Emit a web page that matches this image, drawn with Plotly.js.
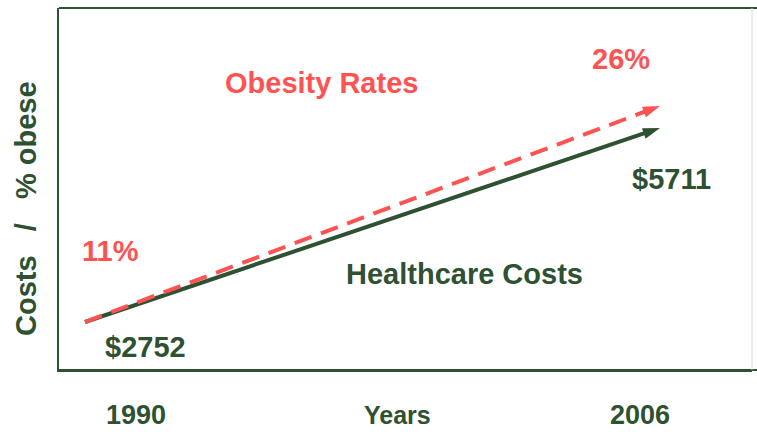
<!DOCTYPE html>
<html>
<head>
<meta charset="utf-8">
<script src="https://cdn.plot.ly/plotly-3.0.1.min.js"></script>
<style>html,body{margin:0;padding:0;background:#fff;}#chart{width:757px;height:432px;}</style>
</head>
<body>
<div id="chart"></div>
<script>
// Data
const years = [1990, 2006];
const healthcareCosts = [2752, 5711];   // dollars
const obesityRates = [11, 26];          // percent obese
const xLabels = ["1990", "Years", "2006"];
const seriesNames = ["Healthcare Costs", "Obesity Rates"];
const yTitle = "Costs\u00A0\u00A0\u00A0/\u00A0\u00A0\u00A0% obese";

const GREEN = "#2e5131";
const RED = "#ff5252";
const FONT = "Liberation Sans, Arial, Helvetica, sans-serif";

// plot box in pixels
const L = 59, R = 752, T = 8, B = 370, W = 757, H = 432;
const px = x => (x - L) / (R - L);
const py = y => (B - y) / (B - T);

const traces = [
  {
    x: years, y: healthcareCosts, yaxis: "y", type: "scatter", mode: "lines+markers",
    line: {color: GREEN, width: 4},
    marker: {symbol: ["circle", "arrow"], size: [0, 18], angleref: "previous", color: GREEN, opacity: 1, line: {width: 0}},
    hoverinfo: "skip", showlegend: false
  },
  {
    x: years, y: obesityRates, yaxis: "y2", type: "scatter", mode: "lines+markers",
    line: {color: RED, width: 4, dash: "18px,10px"},
    marker: {symbol: ["circle", "arrow"], size: [0, 18], angleref: "previous", color: RED, opacity: 1, line: {width: 0}},
    hoverinfo: "skip", showlegend: false
  }
];

function ann(text, x, y, color, size) {
  return {text: "<b>" + text + "</b>", xref: "paper", yref: "paper", x: px(x), y: py(y),
    xanchor: "center", yanchor: "middle", showarrow: false,
    font: {family: FONT, size: size, color: color}};
}

const annotations = [
  ann(seriesNames[1], 321, 83, RED, 29),
  ann(obesityRates[1] + "%", 621, 59, RED, 29),
  ann(obesityRates[0] + "%", 110, 251, RED, 29),
  ann("$" + healthcareCosts[1], 671, 179, GREEN, 29),
  ann("$" + healthcareCosts[0], 145, 347, GREEN, 29),
  ann(seriesNames[0], 464, 274, GREEN, 29),
  ann(xLabels[0], 136, 415, GREEN, 27),
  ann(xLabels[1], 397, 415, GREEN, 25),
  ann(xLabels[2], 640, 415, GREEN, 27),
  {text: "<b>" + yTitle + "</b>", xref: "paper", yref: "paper", x: px(26), y: py(209),
    xanchor: "center", yanchor: "middle", showarrow: false, textangle: -90,
    font: {family: FONT, size: 29, color: GREEN}}
];

const layout = {
  width: W, height: H,
  margin: {l: L, r: W - R, t: T, b: H - B, pad: 0},
  paper_bgcolor: "#fff", plot_bgcolor: "#fff",
  showlegend: false,
  xaxis: {range: [1989.2765, 2008.56], showgrid: false, zeroline: false, showticklabels: false, ticks: "",
    showline: true, linecolor: GREEN, linewidth: 2, mirror: false, fixedrange: true},
  yaxis: {range: [2019.9, 7541.3], showgrid: false, zeroline: false, showticklabels: false, ticks: "",
    showline: true, linecolor: GREEN, linewidth: 2, fixedrange: true},
  yaxis2: {range: [7.667, 32.806], overlaying: "y", side: "right", showgrid: false, zeroline: false,
    showticklabels: false, ticks: "", showline: false, fixedrange: true},
  shapes: [
    {type: "line", xref: "paper", yref: "paper", x0: 0, x1: (W - L) / (R - L), y0: 1, y1: 1,
      line: {color: GREEN, width: 2}},
    {type: "line", xref: "paper", yref: "paper", x0: 0, x1: (W - L) / (R - L), y0: 0, y1: 0,
      line: {color: GREEN, width: 2}},
    {type: "line", xref: "paper", yref: "paper", x0: 1, x1: 1, y0: 0, y1: 1,
      line: {color: "#d8d8d8", width: 1}}
  ],
  annotations: annotations,
  font: {family: FONT}
};

Plotly.newPlot("chart", traces, layout, {staticPlot: true, displayModeBar: false});
</script>
</body>
</html>
